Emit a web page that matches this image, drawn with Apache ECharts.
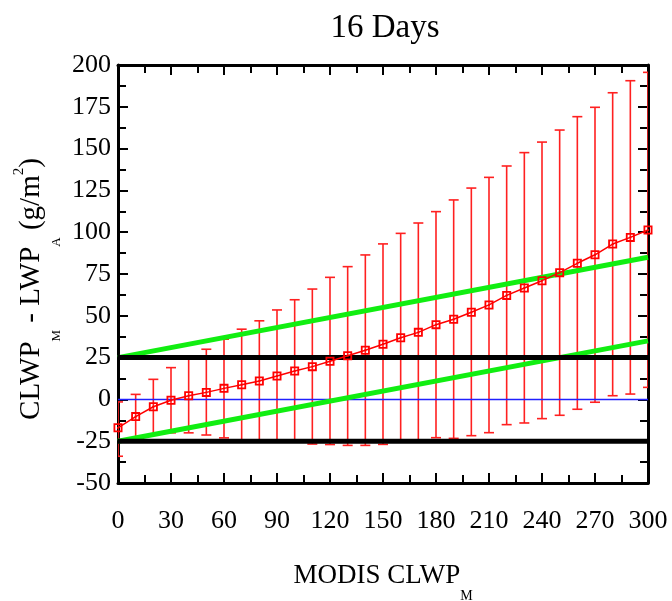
<!DOCTYPE html>
<html><head><meta charset="utf-8">
<script src="https://cdn.jsdelivr.net/npm/echarts@6/dist/echarts.min.js"></script>
<style>html,body{margin:0;padding:0;background:#fff}#c{width:672px;height:601px}</style>
</head><body><div id="c"></div>
<script>
// ---- data ----
const xValues = [0,10,20,30,40,50,60,70,80,90,100,110,120,130,140,150,160,170,180,190,200,210,220,230,240,250,260,270,280,290,300];
const meanDiff = [-17,-10.3,-4.4,-0.5,2.2,4.2,6.6,8.8,11,14,17,19.6,22.8,26.1,29.4,33,36.9,40.1,44.7,47.9,52.1,56.5,62.2,66.6,71,75.8,81.4,86.5,92.9,96.9,101.3];
const upperBound = [-1.5,3,12,19,26,30,36,42,47,53.5,59.6,66,73,79.4,86.4,93,99.3,105.5,112.3,119.3,126.4,132.8,139.6,147.6,153.9,161.1,169.1,174.7,183.4,190.6,195.6];
const lowerBound = [-34,-23.5,-21,-20,-20,-21.3,-23,-24.3,-25,-25.5,-25.6,-26.7,-27,-27.5,-27.5,-26.9,-25.5,-25.3,-22.9,-23.3,-21.7,-19.9,-15.1,-14.1,-11.5,-9.5,-5.9,-1.7,2.2,3.2,7.2];
const guideX = [0,300];
const greenUpper = [25,85];
const greenLower = [-25,35];
const blackUpper = [25,25];
const blackLower = [-25,-25];
const zeroLine = [0,0];
const xRange = [0,300], xStep = 30;
const yRange = [-50,200], yStep = 25;

// ---- chart ----
const FF = '"Liberation Serif", "Times New Roman", serif';
const pairs = (ys) => guideX.map((x,i)=>[x, ys[i]]);

function axisCommon(showLabel){
  return {
    type:'value',
    axisLine:{show:true,onZero:false,lineStyle:{color:'#000',width:3}},
    axisTick:{show:true,inside:true,length:10,lineStyle:{color:'#000',width:2}},
    minorTick:{show:true,splitNumber:2,length:8,lineStyle:{color:'#000',width:2}},
    splitLine:{show:false},
    axisLabel:{show:showLabel,fontFamily:FF,fontSize:26,color:'#000'}
  };
}
const xMain = Object.assign(axisCommon(true),{min:xRange[0],max:xRange[1],interval:xStep,position:'bottom'});
xMain.axisLabel.margin = 25;
const xTop = Object.assign(axisCommon(false),{min:xRange[0],max:xRange[1],interval:xStep,position:'top'});
const yMain = Object.assign(axisCommon(true),{min:yRange[0],max:yRange[1],interval:yStep,position:'left'});
yMain.axisLabel.margin = 7;
const yRight = Object.assign(axisCommon(false),{min:yRange[0],max:yRange[1],interval:yStep,position:'right'});

const chart = echarts.init(document.getElementById('c'),null,{renderer:'canvas'});
chart.setOption({
  animation:false,
  backgroundColor:'#fff',
  grid:{left:118,right:24,top:65,bottom:118,containLabel:false},
  xAxis:[xMain,xTop],
  yAxis:[yMain,yRight],
  graphic:[
    {type:'text',x:385,y:28,style:{text:'16 Days',fontSize:33,fontFamily:FF,fill:'#000',align:'center',verticalAlign:'middle'}},
    {type:'text',x:383,y:576,style:{text:'{a|MODIS CLWP}{s|M}',align:'center',verticalAlign:'middle',
      rich:{a:{fontSize:27,fontFamily:FF,fill:'#000',verticalAlign:'middle'},
            s:{fontSize:14,fontFamily:FF,fill:'#000',verticalAlign:'middle',padding:[40,0,0,0]}}}},
    {type:'text',x:31,y:289,rotation:Math.PI/2,style:{text:'{a|CLWP}{s|M}{a| - LWP}{s|A}{a| (g/m}{p|2}{a|)}',align:'center',verticalAlign:'middle',
      rich:{a:{fontSize:29,fontFamily:FF,fill:'#000',verticalAlign:'middle'},
            s:{fontSize:13,fontFamily:FF,fill:'#000',verticalAlign:'middle',padding:[52,0,0,0]},
            p:{fontSize:15,fontFamily:FF,fill:'#000',verticalAlign:'middle',padding:[0,0,24,0]}}}}
  ],
  series:[
    {type:'custom',name:'range',clip:true,silent:true,
     data:xValues.map((x,i)=>[x,lowerBound[i],upperBound[i]]),
     encode:{x:0,y:[1,2]},
     renderItem:function(params,api){
       const x=api.value(0);
       const lo=api.coord([x,api.value(1)]);
       const hi=api.coord([x,api.value(2)]);
       const w=5, st={stroke:'#ff2020',lineWidth:1.6};
       return {type:'group',children:[
         {type:'line',shape:{x1:lo[0],y1:lo[1],x2:hi[0],y2:hi[1]},style:st},
         {type:'line',shape:{x1:lo[0]-w,y1:lo[1],x2:lo[0]+w,y2:lo[1]},style:st},
         {type:'line',shape:{x1:hi[0]-w,y1:hi[1],x2:hi[0]+w,y2:hi[1]},style:st}
       ]};
     }},
    {type:'line',data:pairs(zeroLine),showSymbol:false,silent:true,lineStyle:{color:'#2020ff',width:1.5}},
    {type:'line',data:pairs(greenUpper),showSymbol:false,silent:true,lineStyle:{color:'#11ee11',width:5}},
    {type:'line',data:pairs(greenLower),showSymbol:false,silent:true,lineStyle:{color:'#11ee11',width:5}},
    {type:'line',data:pairs(blackUpper),showSymbol:false,silent:true,lineStyle:{color:'#000',width:5}},
    {type:'line',data:pairs(blackLower),showSymbol:false,silent:true,lineStyle:{color:'#000',width:5}},
    {type:'line',name:'mean',data:xValues.map((x,i)=>[x,meanDiff[i]]),silent:true,
     symbol:'path://M0,0L10,0L10,10L0,10Z M2,2L2,8L8,8L8,2Z M4,4L6,4L6,6L4,6Z',
     symbolSize:9,showSymbol:true,showAllSymbol:true,
     itemStyle:{color:'#ff0000'},lineStyle:{color:'#ff0000',width:1.5}}
  ]
});
</script></body></html>
